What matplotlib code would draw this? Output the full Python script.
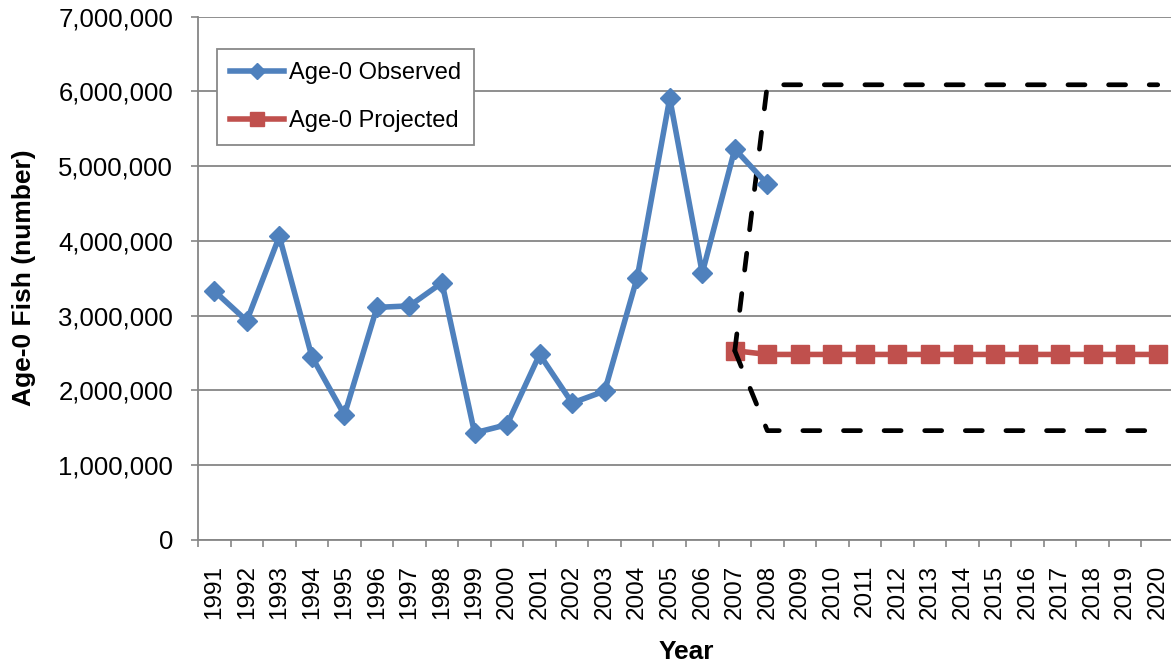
import matplotlib
matplotlib.use("Agg")
import matplotlib.pyplot as plt
from matplotlib.ticker import FuncFormatter, MultipleLocator, FixedLocator
import numpy as np

plt.rcParams['font.family'] = ['Liberation Sans', 'DejaVu Sans']

years = [str(y) for y in range(1991, 2021)]
observed_years = years[:18]
observed = [3.33e6, 2.93e6, 4.06e6, 2.45e6, 1.67e6, 3.11e6, 3.13e6, 3.44e6, 1.43e6,
            1.54e6, 2.48e6, 1.83e6, 1.99e6, 3.51e6, 5.91e6, 3.57e6, 5.23e6, 4.76e6]
projected_years = years[16:]
projected = [2.53e6] + [2.48e6] * 13
bound_years = years[16:]
upper_bound = [2.53e6] + [6.09e6] * 13
lower_bound = [2.53e6] + [1.46e6] * 13

W, H = 1171, 666
fig = plt.figure(figsize=(W / 100, H / 100), dpi=100)
left, right, top, bottom = 198, 1174, 16.8, 539.7
ax = fig.add_axes([left / W, 1 - bottom / H, (right - left) / W, (bottom - top) / H])

idx = {y: i for i, y in enumerate(years)}
xo = [idx[y] for y in observed_years]
xp = [idx[y] for y in projected_years]
xb = [idx[y] for y in bound_years]

blue = '#4F81BD'
red = '#C0504D'
dash = (0, (3.6, 5.0))
ax.plot(xb, upper_bound, color='black', lw=3.4, linestyle=dash, dash_capstyle='round', zorder=4)
ax.plot(xb, lower_bound, color='black', lw=3.4, linestyle=dash, dash_capstyle='round', zorder=4)
ax.plot(xo, observed, color=blue, lw=4, marker='D', ms=10, mec=blue, mew=1,
        label='Age-0 Observed', zorder=5)
ax.plot(xp, projected, color=red, lw=4, marker='s', ms=13, mec=red, mew=1,
        label='Age-0 Projected', zorder=3)

ax.set_xlim(-0.5, len(years) - 0.5)
ax.set_ylim(0, 7e6)
ax.yaxis.set_major_locator(MultipleLocator(1e6))
ax.yaxis.set_major_formatter(FuncFormatter(lambda v, p: f"{int(v):,}"))
ax.set_xticks(range(len(years)))
ax.set_xticklabels(years, rotation=90, fontsize=17.5)
ax.xaxis.set_minor_locator(FixedLocator(np.arange(-0.5, len(years), 1.0)))
ax.tick_params(axis='x', which='major', length=0, pad=18)
ax.tick_params(axis='x', which='minor', length=5, width=1.2, color='#868686', direction='out')
ax.tick_params(axis='y', length=5, width=1.2, color='#868686', pad=13, labelsize=18.5)

ax.grid(axis='y', color='#868686', lw=1.3, zorder=0)
ax.set_axisbelow(True)
for s in ['top', 'right']:
    ax.spines[s].set_visible(False)
for s in ['left', 'bottom']:
    ax.spines[s].set_color('#868686')
    ax.spines[s].set_linewidth(1.3)

leg = ax.legend(loc='upper left', bbox_to_anchor=((217 - left) / (right - left), (bottom - 49) / (bottom - top)),
                borderaxespad=0, fontsize=17, handlelength=2.3, handletextpad=0.2,
                labelspacing=1.1, borderpad=0.55, fancybox=False, framealpha=1,
                edgecolor='#888888', markerscale=0.8)
leg.get_frame().set_linewidth(1.3)

fig.text(24 / W, 1 - 278 / H, 'Age-0 Fish (number)', rotation=90, ha='center', va='center',
         fontsize=19, fontweight='bold')
fig.text(686 / W, 1 - 652 / H, 'Year', ha='center', va='center', fontsize=19, fontweight='bold')

fig.savefig('out.png', dpi=100)
